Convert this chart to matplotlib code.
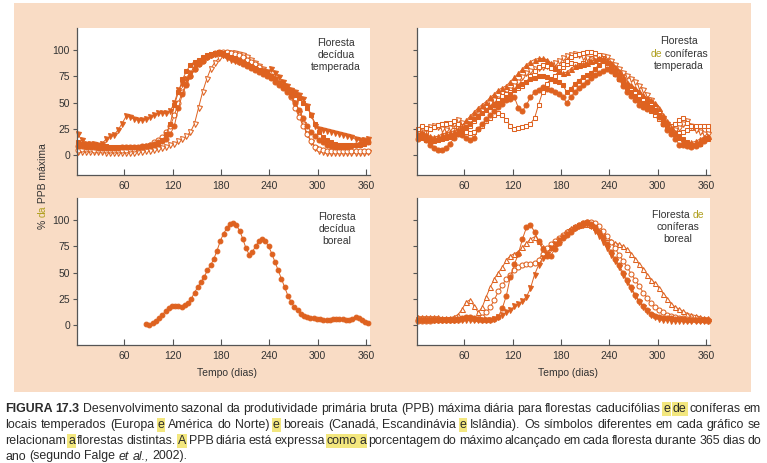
import matplotlib
matplotlib.use('Agg')
import matplotlib.pyplot as plt
from matplotlib.patches import Rectangle
from matplotlib.transforms import IdentityTransform
from matplotlib import font_manager

W, H = 767, 463
ORANGE = '#DE6220'
PEACH = '#F9DCC5'
TXT = '#333333'
OLIVE = '#B0A020'
HIL = '#F3E77E'
SPINE = '#555555'
FONT = ['Liberation Sans', 'DejaVu Sans']
names = {f.name for f in font_manager.fontManager.ttflist}
CAPFONT = ['Liberation Sans Narrow', 'Liberation Sans'] if 'Liberation Sans Narrow' in names else ['Liberation Sans']

# ---------------- data ----------------
days = [2, 7, 12, 17, 22, 27, 32, 37, 42, 47, 52, 57, 62, 67, 72, 77, 82, 87, 92, 97,
        102, 107, 112, 117, 122, 127, 132, 137, 142, 147, 152, 157, 162, 167, 172, 177,
        182, 187, 192, 197, 202, 207, 212, 217, 222, 227, 232, 237, 242, 247, 252, 257,
        262, 267, 272, 277, 282, 287, 292, 297, 302, 307, 312, 317, 322, 327, 332, 337,
        342, 347, 352, 357, 362]

# Floresta decídua temperada
tl_tri_f = [20, 14, 11, 11, 11, 10, 11, 15, 18, 19, 24, 30, 37, 36, 34, 33, 33, 34, 36, 38,
            40, 40, 40, 42, 50, 62, 68, 72, 78, 85, 88, 91, 93, 95, 96, 97, 95, 92, 91, 90,
            89, 88, 86, 84, 82, 80, 80, 79, 82, 78, 74, 70, 66, 62, 60, 57, 53, 47, 38, 28,
            25, 24, 23, 22, 21, 20, 19, 18, 17, 15, 14, 14, 15]
tl_sq_f = [12, 11, 11, 10, 10, 10, 9, 9, 8, 8, 8, 8, 8, 8, 8, 8, 8, 9, 9, 10,
           11, 14, 20, 30, 48, 60, 72, 80, 86, 89, 91, 93, 95, 96, 97, 98, 97, 95, 93, 92,
           91, 89, 87, 85, 83, 81, 79, 77, 75, 72, 69, 66, 63, 60, 57, 54, 50, 45, 38, 30,
           22, 17, 14, 12, 11, 10, 10, 10, 10, 10, 10, 11, 12]
tl_ci_f = [9, 9, 8, 8, 8, 7, 7, 7, 7, 7, 7, 8, 8, 8, 8, 8, 9, 9, 10, 11,
           12, 13, 15, 20, 28, 45, 58, 67, 75, 82, 87, 90, 93, 95, 96, 97, 96, 94, 92, 91,
           89, 87, 85, 83, 81, 79, 77, 75, 73, 70, 67, 64, 60, 56, 50, 43, 35, 28, 22, 18,
           14, 12, 10, 9, 8, 8, 8, 8, 9, 10, 11, 12, 12]
tl_ci_o = [5, 6, 6, 6, 5, 5, 5, 5, 5, 5, 5, 5, 5, 6, 6, 7, 8, 9, 10, 12,
           14, 17, 22, 28, 38, 50, 60, 68, 75, 82, 87, 90, 93, 95, 97, 98, 98, 98, 97, 96,
           95, 93, 91, 89, 87, 84, 81, 78, 74, 72, 70, 67, 62, 55, 45, 36, 28, 20, 13, 8,
           6, 5, 4, 4, 4, 4, 4, 4, 4, 4, 4, 4, 4]
tl_tri_o = [3, 3, 3, 3, 3, 3, 3, 2, 2, 2, 2, 2, 2, 2, 2, 3, 3, 4, 4, 5,
            6, 7, 8, 10, 11, 13, 15, 18, 22, 30, 45, 60, 72, 82, 88, 92, 95, 97, 97, 97,
            96, 95, 93, 91, 88, 85, 82, 79, 75, 72, 69, 66, 62, 57, 50, 40, 30, 20, 12, 7,
            4, 3, 2, 2, 2, 2, 2, 2, 2, 2, 2, 2, 3]

# Floresta de coníferas temperada
tr_ci_f = [15, 18, 14, 10, 7, 5, 5, 7, 11, 16, 20, 19, 16, 14, 16, 25, 30, 34, 38, 42,
           46, 49, 52, 53, 55, 45, 42, 48, 55, 60, 62, 65, 63, 62, 60, 58, 55, 50, 55, 60,
           64, 67, 70, 73, 76, 78, 80, 82, 80, 77, 72, 66, 60, 56, 52, 48, 46, 44, 43, 42,
           36, 30, 24, 20, 15, 10, 10, 9, 8, 9, 11, 13, 16]
tr_tri_f = [20, 22, 20, 18, 17, 18, 20, 21, 22, 23, 25, 28, 33, 37, 41, 45, 48, 51, 55, 58,
            62, 64, 66, 70, 74, 78, 82, 86, 89, 91, 92, 92, 91, 88, 84, 80, 78, 79, 82, 85,
            86, 87, 88, 90, 91, 92, 92, 91, 88, 84, 80, 75, 70, 67, 64, 61, 57, 54, 52, 50,
            45, 38, 32, 27, 22, 17, 14, 12, 12, 13, 15, 17, 18]
tr_sq_f = [18, 16, 14, 13, 13, 14, 15, 16, 17, 18, 20, 23, 26, 30, 34, 37, 40, 43, 46, 48,
           50, 52, 55, 58, 62, 66, 68, 70, 72, 73, 75, 75, 74, 72, 71, 70, 67, 60, 63, 68,
           71, 74, 76, 78, 82, 86, 90, 88, 85, 80, 75, 70, 64, 60, 56, 52, 50, 48, 46, 43,
           38, 32, 27, 23, 20, 18, 15, 12, 10, 10, 11, 14, 15]
tr_sq_o1 = [25, 28, 26, 25, 27, 29, 30, 30, 31, 32, 30, 28, 27, 28, 32, 36, 40, 43, 46, 49,
            52, 56, 58, 60, 62, 64, 66, 70, 75, 80, 84, 86, 85, 83, 82, 84, 87, 90, 93, 95,
            96, 97, 98, 98, 97, 95, 92, 88, 84, 80, 75, 71, 67, 63, 60, 57, 53, 49, 45, 41,
            37, 33, 30, 28, 30, 33, 35, 31, 28, 28, 28, 28, 28]
tr_sq_o2 = [22, 20, 22, 25, 27, 28, 30, 31, 30, 28, 26, 24, 22, 21, 22, 25, 28, 32, 35, 38,
            40, 38, 33, 28, 25, 26, 27, 28, 30, 35, 48, 60, 68, 72, 75, 80, 84, 87, 88, 87,
            86, 88, 90, 92, 93, 92, 90, 86, 82, 77, 72, 68, 64, 60, 56, 52, 48, 45, 42, 38,
            34, 30, 27, 24, 22, 21, 22, 24, 26, 26, 25, 24, 24]
tr_tri_o = [18, 22, 25, 27, 28, 27, 25, 24, 26, 30, 33, 31, 28, 30, 34, 38, 42, 46, 50, 52,
            53, 55, 58, 62, 66, 70, 74, 78, 80, 82, 83, 84, 85, 86, 88, 90, 92, 94, 95, 96,
            95, 93, 92, 91, 92, 93, 94, 93, 90, 86, 82, 78, 75, 72, 70, 66, 62, 57, 52, 46,
            40, 35, 30, 26, 24, 26, 30, 32, 28, 24, 22, 20, 20]

# Floresta decídua boreal
bl_days = [87, 91, 95, 99, 103, 107, 111, 115, 119, 123, 127, 131, 135, 139, 143, 147, 151,
           155, 159, 163, 167, 171, 175, 179, 183, 187, 191, 195, 199, 203, 207, 211, 215,
           219, 223, 227, 231, 235, 239, 243, 247, 251, 255, 259, 263, 267, 271, 275, 279,
           283, 287, 291, 295, 299, 303, 307, 311, 315, 319, 323, 327, 331, 335, 339, 343,
           347, 351, 355, 359, 363]
bl_ci_f = [1, 0.5, 2, 4, 7, 10, 13, 16, 18, 18.5, 18, 17.5, 19, 21, 25, 31, 36, 41, 46, 52,
           57, 63, 71, 80, 87, 92, 96, 97, 95, 90, 82, 73, 67, 70, 75, 80, 82, 80, 75, 68,
           60, 52, 44, 36, 28, 22, 17, 14, 11, 9, 8, 7, 6.5, 6, 5.5, 5, 5, 5, 5.5, 5.5,
           5.5, 5.5, 5, 5, 6, 8, 6.5, 4.5, 3, 2]

# Floresta de coníferas boreal
br_ci_f = [5, 5, 5, 5, 5, 5, 5, 5, 5, 5, 6, 7, 8, 8, 7, 6, 5, 5, 5, 6,
           8, 16, 28, 46, 58, 68, 82, 93, 95, 89, 80, 72, 66, 66, 72, 78, 83, 86, 89, 92,
           95, 97, 98, 96, 93, 89, 84, 77, 70, 63, 57, 50, 43, 36, 29, 23, 18, 14, 11, 9,
           8, 7, 7, 7, 6, 6, 6, 5, 5, 5, 5, 5, 5]
br_tri_o = [8, 8, 8, 8, 8, 8, 7, 7, 7, 8, 10, 15, 22, 24, 18, 12, 17, 27, 36, 44,
            50, 55, 62, 66, 68, 70, 74, 78, 82, 84, 80, 74, 72, 74, 78, 82, 86, 90, 92, 94,
            95, 96, 96, 95, 93, 90, 87, 84, 80, 78, 77, 75, 72, 68, 63, 58, 53, 48, 43, 40,
            35, 30, 25, 20, 17, 15, 13, 11, 10, 9, 8, 7, 7]
br_ci_o = [4, 4, 4, 4, 5, 5, 5, 5, 5, 5, 5, 6, 7, 7, 6, 6, 8, 12, 17, 24,
           32, 38, 44, 48, 52, 55, 57, 58, 58, 59, 62, 68, 73, 77, 80, 83, 86, 89, 91, 93,
           95, 97, 98, 98, 97, 94, 90, 85, 79, 73, 67, 61, 55, 49, 43, 37, 31, 26, 21, 17,
           14, 12, 10, 9, 8, 7, 7, 6, 6, 5, 5, 5, 4]
br_tri_f = [5, 5, 5, 5, 5, 5, 5, 5, 5, 5, 5, 5, 5, 5, 5, 5, 5, 5, 5, 6,
            8, 10, 12, 14, 18, 20, 23, 27, 35, 48, 57, 64, 68, 73, 77, 81, 84, 87, 90, 92,
            94, 95, 96, 94, 90, 85, 79, 73, 67, 61, 55, 48, 41, 34, 28, 22, 17, 13, 10, 8,
            6, 5, 5, 4, 4, 4, 4, 4, 4, 4, 4, 4, 4]

xticks = [60, 120, 180, 240, 300, 360]
yticks = [0, 25, 50, 75, 100]

# ---------------- figure ----------------
fig = plt.figure(figsize=(W / 100, H / 100), dpi=100)
fig.patch.set_facecolor('white')
ID = IdentityTransform()
fig.add_artist(Rectangle((14, H - 392), 737, 389, transform=ID, facecolor=PEACH,
                         edgecolor='none', zorder=-10))
R = fig.canvas.get_renderer()


def add_ax(x0, y0, x1, y1, labels_y):
    ax = fig.add_axes([x0 / W, 1 - y1 / H, (x1 - x0) / W, (y1 - y0) / H])
    ax.set_facecolor('white')
    ax.set_xlim(1, 365)
    ax.set_ylim(-19, 121)
    ax.set_xticks(xticks)
    ax.set_yticks(yticks)
    for s in ['top', 'right']:
        ax.spines[s].set_visible(False)
    for s in ['left', 'bottom']:
        ax.spines[s].set_color(SPINE)
        ax.spines[s].set_linewidth(0.9)
    ax.tick_params(axis='x', direction='in', length=4, width=0.8, color=SPINE,
                   labelsize=7.5, labelcolor=TXT, pad=4)
    ax.tick_params(axis='y', direction='out', length=3, width=0.8, color=SPINE,
                   labelsize=7.5, labelcolor=TXT, pad=2, labelleft=labels_y)
    for lab in ax.get_xticklabels() + ax.get_yticklabels():
        lab.set_family(FONT)
    return ax


def series(ax, x, y, marker, filled, ms=3.6):
    ax.plot(x, y, color=ORANGE, lw=0.7, marker=marker, ms=ms,
            mfc=ORANGE if filled else 'white', mec=ORANGE, mew=0.75, clip_on=False)


ax_tl = add_ax(77, 28, 370, 175, True)
ax_tr = add_ax(417, 28, 710, 175, False)
ax_bl = add_ax(77, 198, 370, 345, True)
ax_br = add_ax(417, 198, 710, 345, False)

series(ax_tl, days, tl_tri_o, 'v', False)
series(ax_tl, days, tl_ci_o, 'o', False)
series(ax_tl, days, tl_ci_f, 'o', True)
series(ax_tl, days, tl_sq_f, 's', True, 3.2)
series(ax_tl, days, tl_tri_f, 'v', True)

series(ax_tr, days, tr_sq_o2, 's', False, 3.3)
series(ax_tr, days, tr_tri_o, 'v', False)
series(ax_tr, days, tr_sq_o1, 's', False, 3.3)
series(ax_tr, days, tr_ci_f, 'o', True)
series(ax_tr, days, tr_sq_f, 's', True, 3.2)
series(ax_tr, days, tr_tri_f, '^', True)

series(ax_bl, bl_days, bl_ci_f, 'o', True, 3.4)

series(ax_br, days, br_tri_o, '^', False)
series(ax_br, days, br_ci_o, 'o', False)
series(ax_br, days, br_tri_f, 'v', True)
series(ax_br, days, br_ci_f, 'o', True)


# ---------------- text helpers ----------------
def width(s, **kw):
    t = fig.text(0, 0, s, transform=ID, **kw)
    w = t.get_window_extent(renderer=R).width
    t.remove()
    return w


def seg_line(cx, cy, segs, size=7.5):
    kw = dict(fontsize=size, family=FONT)
    full = ''.join(s for s, _ in segs)
    left = cx - width(full, **kw) / 2
    acc = ''
    for s, c in segs:
        acc += s
        fig.text(left + width(acc, **kw), H - cy - 3.5, s, transform=ID, ha='right',
                 va='baseline', color=c, **kw)


for i, line in enumerate([[('Floresta', TXT)], [('decídua', TXT)], [('temperada', TXT)]]):
    seg_line(336, 43 + 12 * i, line)
for i, line in enumerate([[('Floresta', TXT)], [('de', OLIVE), (' coníferas', TXT)],
                          [('temperada', TXT)]]):
    seg_line(679, 41 + 12.3 * i, line)
for i, line in enumerate([[('Floresta', TXT)], [('decídua', TXT)], [('boreal', TXT)]]):
    seg_line(337, 216 + 12.5 * i, line)
for i, line in enumerate([[('Floresta ', TXT), ('de', OLIVE)], [('coníferas', TXT)],
                          [('boreal', TXT)]]):
    seg_line(678, 214 + 12 * i, line)

# x labels
for cx in (227, 568):
    fig.text(cx, H - 373, 'Tempo (dias)', transform=ID, ha='center', va='center',
             fontsize=7.5, family=FONT, color=TXT)

# rotated y label with coloured "da"
ysegs = [('% ', TXT), ('da', OLIVE), (' PPB máxima', TXT)]
kw = dict(fontsize=7.5, family=FONT)
full = ''.join(s for s, _ in ysegs)
bottom = (H - 186) - width(full, **kw) / 2
acc = ''
for s, c in ysegs:
    acc += s
    fig.text(45.5, bottom + width(acc, **kw), s, transform=ID, rotation=90,
             rotation_mode='anchor', ha='right', va='baseline', color=c, **kw)

# ---------------- caption (justified) ----------------
caption = [
    "*FIGURA* *17.3* Desenvolvimento sazonal da produtividade primária bruta (PPB) máxima diária para florestas caducifólias [e] [de] coníferas em",
    "locais temperados (Europa [e] América do Norte) [e] boreais (Canadá, Escandinávia [e] Islândia). Os símbolos diferentes em cada gráfico se",
    "relacionam [a] florestas distintas. [A] PPB diária está expressa [como] [a] porcentagem do máximo alcançado em cada floresta durante 365 dias do",
    "ano (segundo Falge _et_ _al.,_ 2002).",
]
cap_base = [412, 428, 444, 459.5]
CX0, CX1 = 5, 761
CS = 8.9
for li, line in enumerate(caption):
    toks = []
    for w in line.split(' '):
        st = {}
        if w.startswith('*'):
            w = w.strip('*'); st['fontweight'] = 'bold'
        elif w.startswith('['):
            w = w.strip('[]'); st['bbox'] = dict(facecolor=HIL, edgecolor='none', pad=0.6)
        elif w.startswith('_'):
            w = w.strip('_'); st['fontstyle'] = 'italic'
        toks.append((w, st))
    ws = [width(w, fontsize=CS, family=CAPFONT,
                **{k: v for k, v in st.items() if k != 'bbox'}) for w, st in toks]
    if li < len(caption) - 1:
        gap = (CX1 - CX0 - sum(ws)) / (len(ws) - 1)
    else:
        gap = width('a b', fontsize=CS, family=CAPFONT) - 2 * width('a', fontsize=CS, family=CAPFONT)
    x = CX0
    for (w, st), ww in zip(toks, ws):
        fig.text(x, H - cap_base[li], w, transform=ID, ha='left', va='baseline',
                 fontsize=CS, family=CAPFONT, color='#2a2a2a', **st)
        x += ww + gap

fig.savefig('out.png', dpi=100)
